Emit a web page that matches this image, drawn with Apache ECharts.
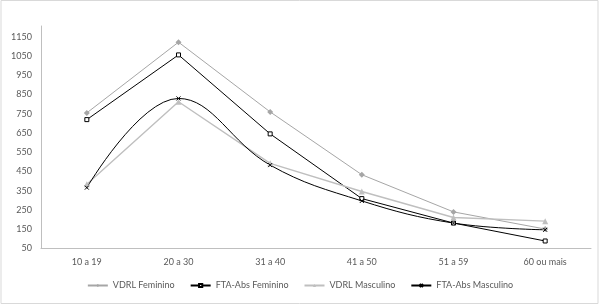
<!DOCTYPE html>
<html>
<head>
<meta charset="utf-8">
<script src="https://cdn.jsdelivr.net/npm/echarts@6/dist/echarts.min.js"></script>
<style>
  html, body { margin: 0; padding: 0; background: #fff; }
  #chart { width: 600px; height: 305px; }
</style>
</head>
<body>
<div id="chart"></div>
<script>
var categorias = ['10 a 19', '20 a 30', '31 a 40', '41 a 50', '51 a 59', '60 ou mais'];
var vdrlFeminino = [754, 1121, 759, 433, 240, 151];
var ftaFeminino = [719, 1055, 645, 309, 182, 89];
var vdrlMasculino = [383, 812, 492, 346, 211, 192];
var ftaMasculino = [366, 829, 483, 297, 182, 147];

var myChart = echarts.init(document.getElementById('chart'));
var fonte = 'Lato, "Open Sans", sans-serif';

var option = {
  animation: false,
  backgroundColor: '#fff',
  graphic: [{
    type: 'rect',
    shape: { x: 1, y: 0.5, width: 597, height: 303 },
    style: { fill: 'none', stroke: '#d9d9d9', lineWidth: 1 }
  }],
  legend: {
    bottom: 10,
    left: 'center',
    itemWidth: 20,
    itemHeight: 4,
    itemGap: 15,
    textStyle: { fontFamily: fonte, fontSize: 9, color: '#595959' },
    data: ['VDRL Feminino', 'FTA-Abs Feminino', 'VDRL Masculino', 'FTA-Abs Masculino']
  },
  grid: {
    left: 41,
    right: 9,
    top: 26,
    bottom: 56.5
  },
  xAxis: {
    type: 'category',
    data: categorias,
    boundaryGap: true,
    axisLine: { lineStyle: { color: '#bfbfbf', width: 1 } },
    axisTick: { show: false },
    axisLabel: { fontFamily: fonte, fontSize: 9, color: '#595959', margin: 9 }
  },
  yAxis: {
    type: 'value',
    min: 50,
    max: 1205,
    interval: 100,
    axisLine: { show: true, lineStyle: { color: '#bfbfbf', width: 1 } },
    axisTick: { show: false },
    splitLine: { show: false },
    axisLabel: {
      fontFamily: fonte, fontSize: 9, color: '#595959', margin: 9, showMaxLabel: false,
      formatter: function (v) { return String(v); }
    }
  },
  series: [
    {
      name: 'VDRL Feminino',
      type: 'line',
      data: vdrlFeminino,
      symbol: 'diamond',
      symbolSize: 6,
      lineStyle: { color: '#a6a6a6', width: 1 },
      itemStyle: { color: '#a6a6a6' }
    },
    {
      name: 'FTA-Abs Feminino',
      type: 'line',
      data: ftaFeminino,
      symbol: 'rect',
      symbolSize: 4,
      lineStyle: { color: '#000', width: 1 },
      itemStyle: { color: '#fff', borderColor: '#000', borderWidth: 1 }
    },
    {
      name: 'VDRL Masculino',
      type: 'line',
      data: vdrlMasculino,
      symbol: 'triangle',
      symbolSize: 6,
      lineStyle: { color: '#bfbfbf', width: 1.4 },
      itemStyle: { color: '#bfbfbf' }
    },
    {
      name: 'FTA-Abs Masculino',
      type: 'line',
      data: ftaMasculino,
      smooth: 0.4,
      symbol: 'path://M0,0L10,10M10,0L0,10',
      symbolSize: 4,
      lineStyle: { color: '#000', width: 1 },
      itemStyle: { color: '#000', borderColor: '#000', borderWidth: 1 }
    }
  ]
};
myChart.setOption(option);
</script>
</body>
</html>
